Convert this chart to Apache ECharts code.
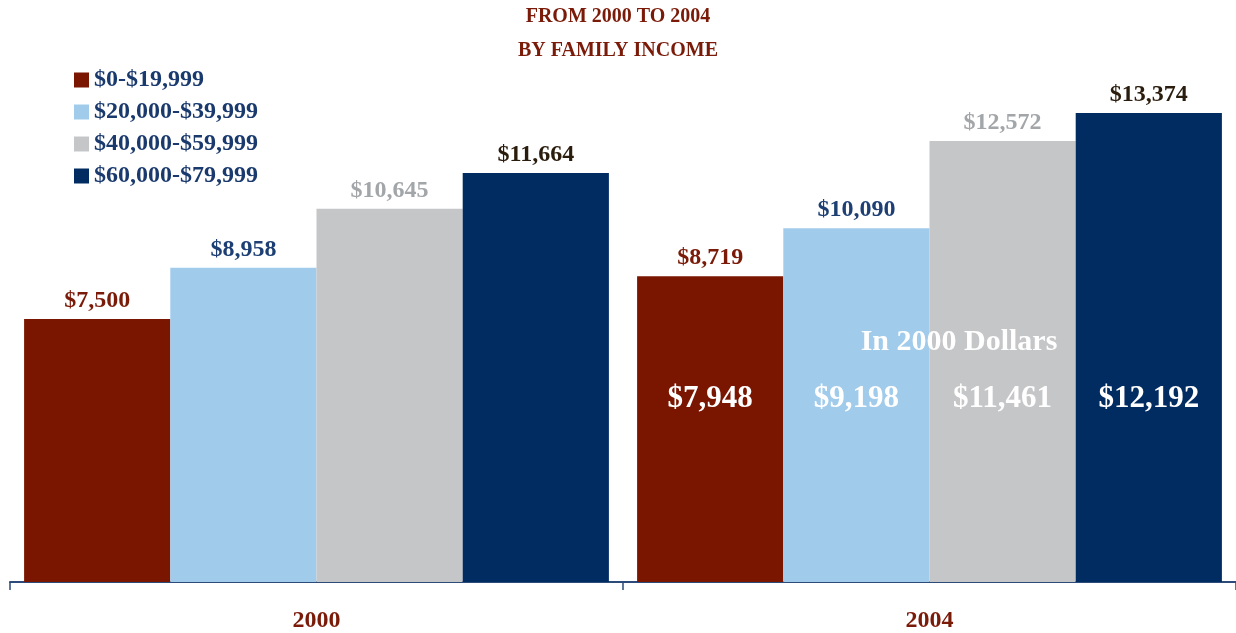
<!DOCTYPE html>
<html>
<head>
<meta charset="utf-8">
<script src="https://cdn.jsdelivr.net/npm/echarts@6/dist/echarts.min.js"></script>
<style>
  html, body { margin: 0; padding: 0; background: #fff; }
  #chart { width: 1236px; height: 633px; }
</style>
</head>
<body>
<div id="chart"></div>
<script>
// data
var years = ['2000', '2004'];
var incomeGroups = ['$0-$19,999', '$20,000-$39,999', '$40,000-$59,999', '$60,000-$79,999'];
var low = [7500, 8719];
var lowMid = [8958, 10090];
var highMid = [10645, 12572];
var high = [11664, 13374];
// 2004 values in 2000 dollars
var real2004 = [7948, 9198, 11461, 12192];

var barColors = ['#7a1500', '#a0cbeb', '#c5c6c8', '#002c62'];
var labelColors = ['#7a1a08', '#1d3f73', '#a3a6a9', '#2b1d0e'];
var serif = "'Liberation Serif', 'Times New Roman', serif";

function money(v) {
  return '$' + v.toLocaleString('en-US');
}

var nominal = [low, lowMid, highMid, high];
var series = [];

nominal.forEach(function (vals, i) {
  series.push({
    name: incomeGroups[i],
    type: 'bar',
    xAxisIndex: 0,
    barGap: 0,
    barCategoryGap: '4.6%',
    data: vals,
    itemStyle: { color: barColors[i] },
    label: {
      show: true,
      position: 'top',
      distance: 6,
      formatter: function (p) { return money(p.value); },
      color: labelColors[i],
      fontFamily: serif,
      fontWeight: 'bold',
      fontSize: 24
    }
  });
});

// transparent twins on a hidden axis, only to carry the white 2000-dollar labels
real2004.forEach(function (v, i) {
  series.push({
    name: 'real ' + incomeGroups[i],
    type: 'bar',
    xAxisIndex: 1,
    barGap: 0,
    barCategoryGap: '4.6%',
    data: [null, v],
    itemStyle: { color: 'rgba(0,0,0,0)' },
    silent: true,
    label: {
      show: true,
      position: 'insideBottom',
      distance: 168,
      formatter: function (p) { return money(p.value); },
      color: '#ffffff',
      fontFamily: serif,
      fontWeight: 'bold',
      fontSize: 31
    }
  });
});

var chart = echarts.init(document.getElementById('chart'));
chart.setOption({
  animation: false,
  title: {
    text: 'FROM 2000 TO 2004\nBY FAMILY INCOME',
    left: 'center',
    top: 0,
    padding: 0,
    textStyle: {
      color: '#7a1a08',
      fontFamily: serif,
      fontWeight: 'bold',
      fontSize: 20,
      lineHeight: 34
    }
  },
  legend: {
    data: incomeGroups,
    orient: 'vertical',
    left: 69,
    top: 63,
    itemWidth: 15,
    itemHeight: 15,
    itemGap: 8,
    icon: 'rect',
    textStyle: {
      color: '#1a3a6e',
      fontFamily: serif,
      fontWeight: 'bold',
      fontSize: 24
    }
  },
  graphic: [{
    type: 'text',
    x: 959,
    y: 342,
    style: {
      text: 'In 2000 Dollars',
      fill: '#ffffff',
      font: 'bold 30px ' + serif,
      textAlign: 'center',
      textVerticalAlign: 'middle'
    },
    z: 100
  }],
  grid: { left: 10, top: 91, width: 1230, height: 492 },
  xAxis: [{
    type: 'category',
    data: years,
    axisLine: { lineStyle: { color: '#2c4a7a', width: 2 } },
    axisTick: { show: true, interval: 0, length: 8, lineStyle: { color: '#2c4a7a', width: 1.5 } },
    axisLabel: {
      margin: 27,
      color: '#7a1a08',
      fontFamily: serif,
      fontWeight: 'bold',
      fontSize: 24
    }
  }, {
    type: 'category',
    data: years,
    show: false
  }],
  yAxis: {
    type: 'value',
    min: 0,
    max: 14000,
    show: false,
    splitLine: { show: false }
  },
  series: series
});
</script>
</body>
</html>
